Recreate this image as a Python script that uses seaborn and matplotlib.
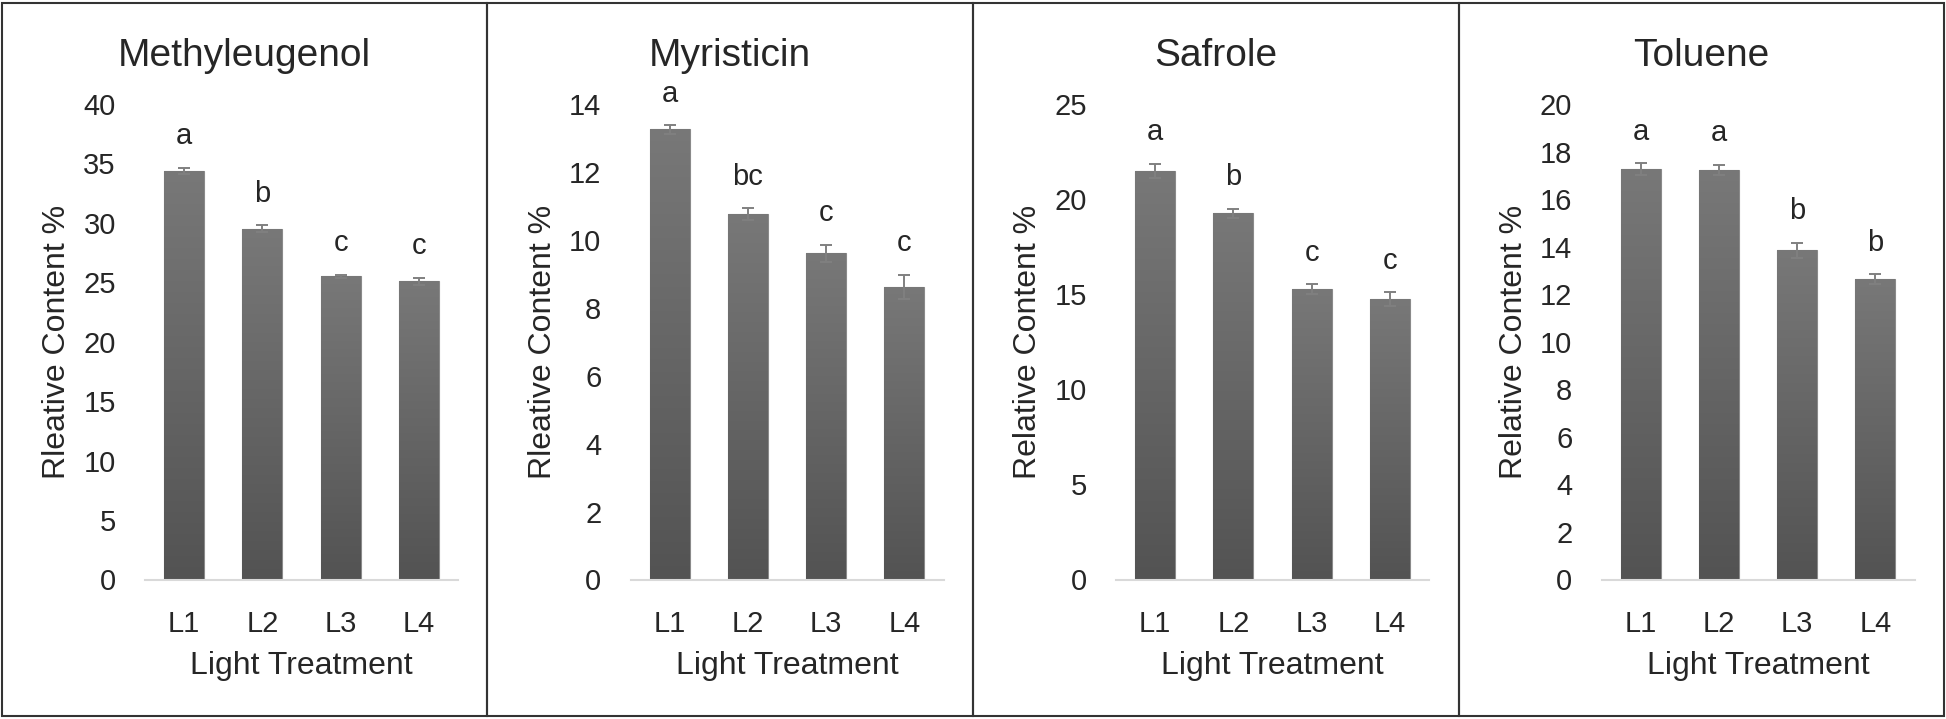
import numpy as np
import pandas as pd
import seaborn as sns
import matplotlib.pyplot as plt
from matplotlib.patches import Rectangle
from matplotlib.colors import LinearSegmentedColormap

# values
treatments = ["L1", "L2", "L3", "L4"]

meth_mean = [34.4, 29.5, 25.5, 25.1]
meth_err = [0.25, 0.3, 0.15, 0.3]
meth_letters = ["a", "b", "c", "c"]

myr_mean = [13.25, 10.76, 9.6, 8.62]
myr_err = [0.12, 0.17, 0.26, 0.35]
myr_letters = ["a", "bc", "c", "c"]

saf_mean = [21.5, 19.25, 15.27, 14.75]
saf_err = [0.37, 0.25, 0.24, 0.35]
saf_letters = ["a", "b", "c", "c"]

tol_mean = [17.27, 17.23, 13.84, 12.63]
tol_err = [0.24, 0.2, 0.33, 0.21]
tol_letters = ["a", "a", "b", "b"]

titles = ["Methyleugenol", "Myristicin", "Safrole", "Toluene"]
ylabels = ["Rleative Content %", "Rleative Content %", "Relative Content %", "Relative Content %"]
ymax = [40, 14, 25, 20]
ystep = [5, 2, 5, 2]

panels = [
    (meth_mean, meth_err, meth_letters),
    (myr_mean, myr_err, myr_letters),
    (saf_mean, saf_err, saf_letters),
    (tol_mean, tol_err, tol_letters),
]

sns.set_style("white")
plt.rcParams["font.family"] = ["Liberation Sans", "DejaVu Sans"]

W, H = 1946, 719
fig = plt.figure(figsize=(W / 100, H / 100), dpi=100)

grad = LinearSegmentedColormap.from_list("bar", ["#535353", "#787878"])
panel_w = (W - 4) / 4

for i, (means, errs, letters) in enumerate(panels):
    left = 2 + i * panel_w
    ax = fig.add_axes([(left + 143) / W, (H - 579.5) / H, 313 / W, (579.5 - 104) / H])
    df = pd.DataFrame({"treatment": treatments, "value": means})
    sns.barplot(data=df, x="treatment", y="value", ax=ax, color="#666666",
                width=0.51, errorbar=None, edgecolor="#8a8a8a", linewidth=0.8, zorder=2)

    # vertical gradient inside each bar
    g = np.linspace(0, 1, 256).reshape(-1, 1)
    for p in ax.patches:
        x0, w, h = p.get_x(), p.get_width(), p.get_height()
        im = ax.imshow(g, extent=[x0, x0 + w, 0, h], origin="lower", aspect="auto",
                       cmap=grad, zorder=2.5)
        im.set_clip_path(p)

    ax.errorbar(range(len(treatments)), means, yerr=errs, fmt="none", ecolor="#808080",
                elinewidth=1.4, capsize=4.3, capthick=1.4, zorder=3)

    for j, (m, e, lab) in enumerate(zip(means, errs, letters)):
        ax.annotate(lab, (j, m + e), xytext=(0, 17), textcoords="offset points",
                    ha="center", va="baseline", fontsize=21)

    ax.set_xlim(-0.5, 3.5)
    ax.set_ylim(0, ymax[i])
    ax.set_yticks(np.arange(0, ymax[i] + 0.1, ystep[i]))
    ax.tick_params(axis="both", length=0, labelsize=21)
    ax.tick_params(axis="x", pad=22)
    ax.tick_params(axis="y", pad=21)
    ax.set_xlabel("Light Treatment", fontsize=23, labelpad=9)
    ax.set_ylabel(ylabels[i], fontsize=23, labelpad=8)
    for s in ["top", "right", "left"]:
        ax.spines[s].set_visible(False)
    ax.spines["bottom"].set_color("#d9d9d9")
    ax.spines["bottom"].set_linewidth(1.5)
    ax.set_facecolor("none")

    fig.text((left + panel_w / 2) / W, 1 - 56 / H, titles[i], ha="center", va="center",
             fontsize=28)
    fig.patches.append(Rectangle((left / W, 3 / H), panel_w / W, (H - 6) / H,
                                 transform=fig.transFigure, fill=False,
                                 edgecolor="#333333", linewidth=1.5))

fig.savefig("out.png", dpi=100)
